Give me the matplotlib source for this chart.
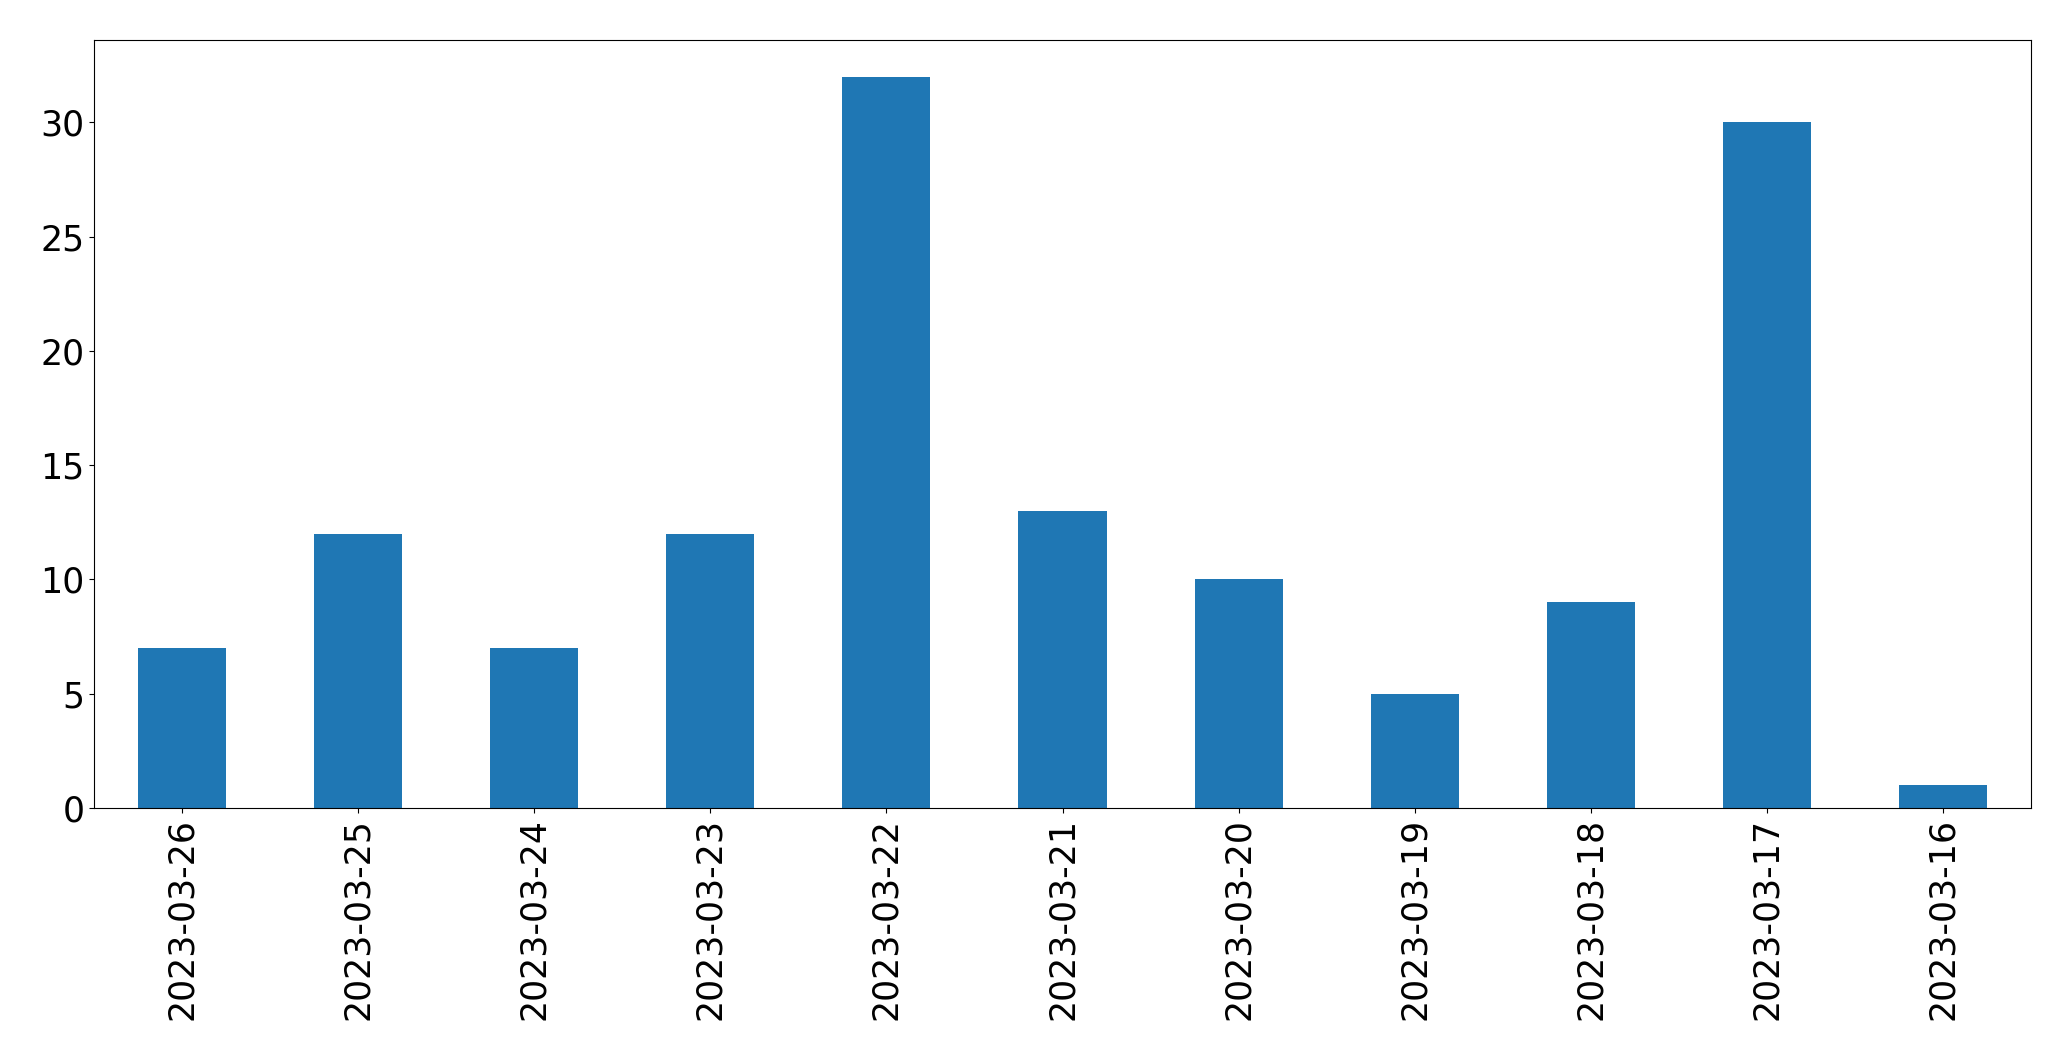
import matplotlib
matplotlib.use("Agg")
import matplotlib.pyplot as plt

dates = [
    "2023-03-26", "2023-03-25", "2023-03-24", "2023-03-23", "2023-03-22",
    "2023-03-21", "2023-03-20", "2023-03-19", "2023-03-18", "2023-03-17",
    "2023-03-16",
]
counts = [7, 12, 7, 12, 32, 13, 10, 5, 9, 30, 1]


def main():
    fig = plt.figure(figsize=(20.71, 10.61), dpi=100)
    ax = fig.add_axes([94 / 2071, 1 - 808 / 1061, (2031 - 94) / 2071, (808 - 40) / 1061])
    x = range(len(dates))
    ax.bar(x, counts, width=0.5, color="#1f77b4")
    ax.set_xlim(-0.5, len(dates) - 0.5)
    ax.set_ylim(0, max(counts) * 1.05)
    ax.set_xticks(list(x))
    ax.set_xticklabels(dates, rotation=90)
    ax.tick_params(labelsize=25)
    fig.savefig("out.png", dpi=100)


if __name__ == "__main__":
    main()
